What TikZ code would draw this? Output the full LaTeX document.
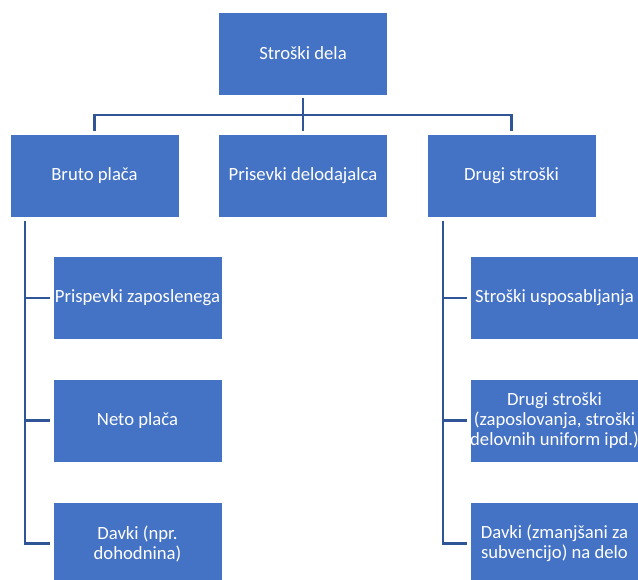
\documentclass[tikz,border=0pt]{standalone}
\usepackage{fontspec}
\setmainfont{Carlito}
\definecolor{boxblue}{HTML}{4472C4}
\definecolor{lineblue}{HTML}{2F5597}
\begin{document}
\begin{tikzpicture}[x=0.75pt,y=-0.75pt,
  box/.style={draw=white,line width=0.6pt,fill=boxblue,text=white,
    minimum width=126.75pt,minimum height=62.25pt,inner sep=0pt,
    align=center,font=\fontsize{14}{15}\selectfont},
  conn/.style={draw=lineblue,line width=1.6pt}]
\useasboundingbox (0,0) rectangle (638,580);
\node[box] (top) at (303,53.5) {Stroški dela};
\node[box] (bruto) at (94.5,176) {Bruto plača};
\node[box] (pris) at (303,176) {Prisevki delodajalca};
\node[box] (drugi) at (511.5,176) {Drugi stroški};
\node[box] (l1) at (137.5,298) {Prispevki zaposlenega};
\node[box] (l2) at (137.5,420.5) {Neto plača};
\node[box] (l3) at (137.5,543.5) {Davki (npr.\\dohodnina)};
\node[box] (r1) at (554.5,298) {Stroški usposabljanja};
\node[box] (r2) at (554.5,420.5) {Drugi stroški\\(zaposlovanja, stroški\\delovnih uniform ipd.)};
\node[box] (r3) at (554.5,543.5) {Davki (zmanjšani za\\subvencijo) na delo};
\coordinate (bus) at (303,115);
\coordinate (lbus) at (25,221);
\coordinate (rbus) at (443,221);
\draw[conn] ([yshift=-2.25pt]top.south) -- (bus);
\draw[conn] ([yshift=2.25pt]bruto.north) -- (bruto.north |- bus) -- (drugi.north |- bus) -- ([yshift=2.25pt]drugi.north);
\draw[conn] (bus) -- ([yshift=2.25pt]pris.north);
\draw[conn] (lbus) |- ([xshift=-2.25pt]l3.west);
\draw[conn] (l1.west -| lbus) -- ([xshift=-2.25pt]l1.west);
\draw[conn] (l2.west -| lbus) -- ([xshift=-2.25pt]l2.west);
\draw[conn] (rbus) |- ([xshift=-2.25pt]r3.west);
\draw[conn] (r1.west -| rbus) -- ([xshift=-2.25pt]r1.west);
\draw[conn] (r2.west -| rbus) -- ([xshift=-2.25pt]r2.west);
\end{tikzpicture}
\end{document}
